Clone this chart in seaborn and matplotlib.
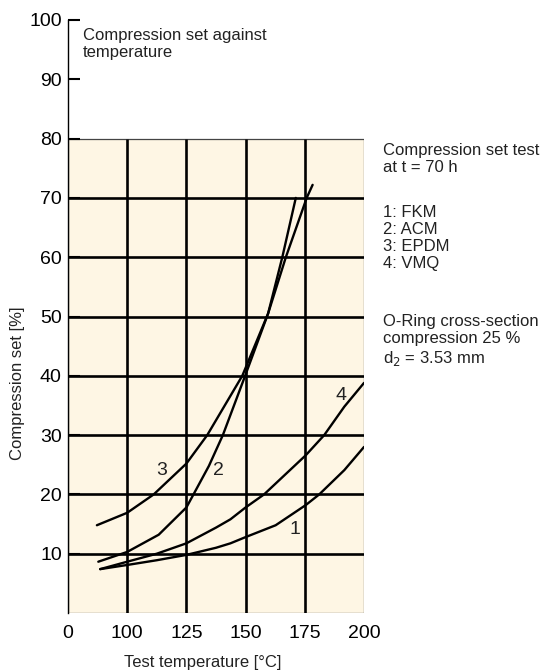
import matplotlib
matplotlib.use("Agg")
import matplotlib.pyplot as plt
import matplotlib.patches as mpatches
import seaborn as sns
import pandas as pd

# ---- data ----
temp_fkm = [88.6, 100, 112.5, 125, 137.5, 143.6, 150, 162.7, 175.4, 181.1, 191.7, 200]
set_fkm = [7.4, 8.1, 8.9, 9.8, 11.0, 11.75, 12.8, 14.8, 18.2, 20.0, 24.1, 28.0]

temp_acm = [87.8, 100, 113.3, 125, 128, 134.5, 140.4, 149.8, 159.5, 165.5, 171.2]
set_acm = [8.65, 10.3, 13.2, 17.8, 20, 24.8, 30, 40, 50.5, 60, 70]

temp_epdm = [87.2, 100, 111.2, 125, 133.8, 148.6, 159.5, 167.0, 175.8, 178.3]
set_epdm = [14.8, 16.9, 20, 25.2, 30, 40, 50.5, 60, 70, 72.2]

temp_vmq = [88.6, 100, 112.5, 125, 137.5, 143.6, 150, 157.8, 165, 175.4, 183.2, 191.7, 200]
set_vmq = [7.4, 8.65, 10.0, 11.75, 14.4, 15.8, 17.8, 20.0, 22.7, 26.6, 30.0, 34.8, 38.8]

curve_ids = ["1", "2", "3", "4"]
label_x = [170.8, 138.4, 114.7, 190.3]
label_y = [14.1, 24.0, 24.0, 36.6]

x_ticks = [75, 100, 125, 150, 175, 200]
x_ticklabels = ["0", "100", "125", "150", "175", "200"]
y_ticks = [10, 20, 30, 40, 50, 60, 70, 80, 90, 100]
grid_x = [100, 125, 150, 175]
grid_y = [10, 20, 30, 40, 50, 60, 70]
shade_top = 80

df = pd.concat([
    pd.DataFrame({"T": temp_fkm, "S": set_fkm, "c": "1"}),
    pd.DataFrame({"T": temp_acm, "S": set_acm, "c": "2"}),
    pd.DataFrame({"T": temp_epdm, "S": set_epdm, "c": "3"}),
    pd.DataFrame({"T": temp_vmq, "S": set_vmq, "c": "4"}),
])

sns.set_theme(style="white")
plt.rcParams["font.family"] = ["Liberation Sans", "DejaVu Sans"]

TXT = "#222222"
fig = plt.figure(figsize=(5.41, 6.71), dpi=100)
ax = fig.add_axes([68 / 541, 1 - 613 / 671, 296 / 541, 593 / 671])
ax.set_xlim(75, 200)
ax.set_ylim(0, 100)

# shaded region
rect = mpatches.Rectangle((75, 0), 125, shade_top, facecolor="#FEF6E4",
                          edgecolor="#444444", linewidth=0.9, zorder=0.5)
ax.add_patch(rect)

# grid restricted to the shaded area
ax.vlines(grid_x, 0, shade_top, colors="black", linewidth=1.9, zorder=1)
ax.hlines(grid_y, 75, 200, colors="black", linewidth=1.9, zorder=1)

sns.lineplot(data=df, x="T", y="S", hue="c", units="c", estimator=None,
             palette=["black"] * 4, linewidth=1.7, legend=False, sort=False,
             ax=ax, zorder=3)

for cid, lx, ly in zip(curve_ids, label_x, label_y):
    ax.text(lx, ly, cid, fontsize=14, ha="center", va="center", color=TXT, zorder=4)

for s in ["top", "right", "bottom"]:
    ax.spines[s].set_visible(False)
ax.spines["left"].set_color("black")
ax.spines["left"].set_linewidth(1.0)

ax.set_xticks(x_ticks)
ax.set_xticklabels(x_ticklabels)
ax.set_yticks(y_ticks)
ax.tick_params(axis="x", bottom=True, length=0, pad=9, labelsize=14, colors="black")
ax.tick_params(axis="y", left=True, direction="in", length=8.5, width=1.5, pad=4.5,
               labelsize=14, colors="black")
ax.grid(False)

ax.set_xlabel("")
ax.set_ylabel("")
fig.text(203 / 541, 1 - 662 / 671, "Test temperature [°C]", fontsize=12,
         ha="center", va="center", color=TXT)
fig.text(17.5 / 541, 1 - 383 / 671, "Compression set [%]", fontsize=12,
         ha="center", va="center", rotation=90, color=TXT)

fig.text(83 / 541, 1 - 28 / 671, "Compression set against\ntemperature",
         fontsize=12, ha="left", va="top", linespacing=1.18, color=TXT)

fig.text(383 / 541, 1 - 143 / 671, "Compression set test\nat t = 70 h",
         fontsize=12, ha="left", va="top", linespacing=1.18, color=TXT)
fig.text(383 / 541, 1 - 205 / 671, "1: FKM\n2: ACM\n3: EPDM\n4: VMQ",
         fontsize=12, ha="left", va="top", linespacing=1.18, color=TXT)
fig.text(383 / 541, 1 - 314 / 671,
         "O-Ring cross-section\ncompression 25 %\nd$_2$ = 3.53 mm",
         fontsize=12, ha="left", va="top", linespacing=1.18, color=TXT)

fig.savefig("out.png", dpi=100)
